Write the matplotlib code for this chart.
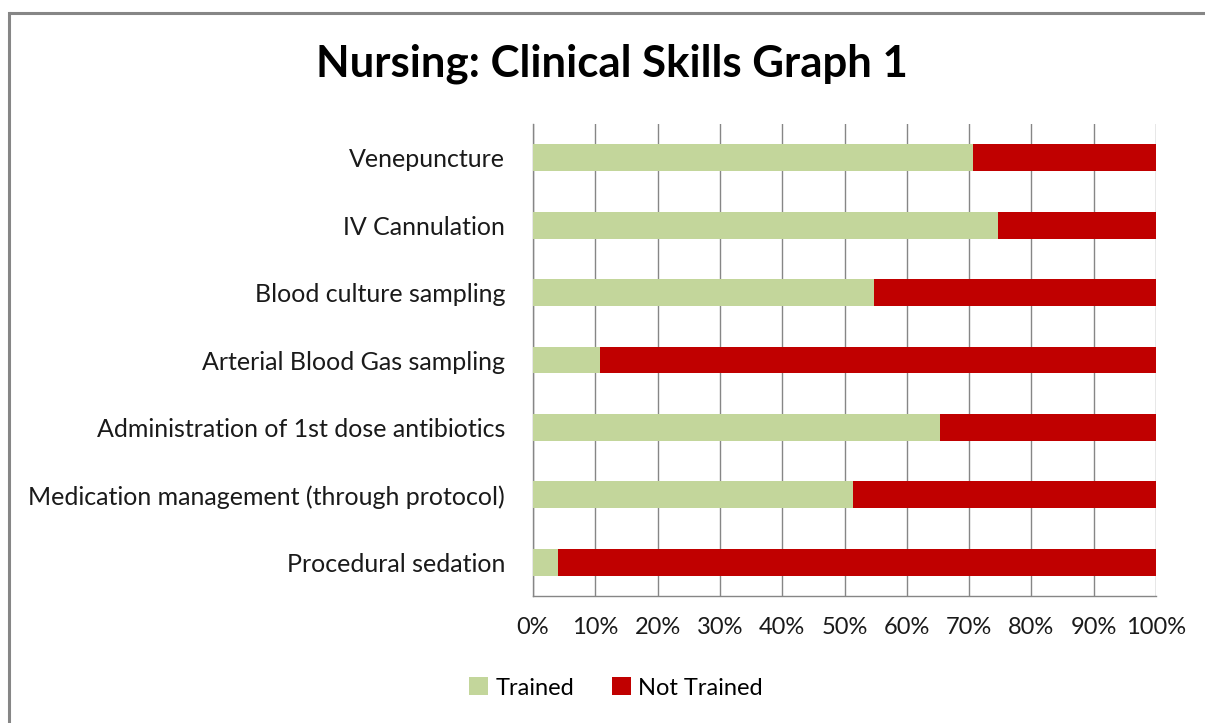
import matplotlib
matplotlib.use("Agg")
import matplotlib.pyplot as plt
from matplotlib.ticker import FuncFormatter, MultipleLocator
from matplotlib.lines import Line2D

categories = ["Venepuncture", "IV Cannulation", "Blood culture sampling",
              "Arterial Blood Gas sampling", "Administration of 1st dose antibiotics",
              "Medication management (through protocol)", "Procedural sedation"]
trained = [70.6, 74.7, 54.7, 10.8, 65.4, 51.4, 4.0]
not_trained = [100 - t for t in trained]
series_names = ["Trained", "Not Trained"]
colors = ["#C3D69B", "#C00000"]

plt.rcParams['font.family'] = ['Lato', 'DejaVu Sans']

fig = plt.figure(figsize=(12.05, 7.23), dpi=100)
W, H = 1205, 723
ax = fig.add_axes([533 / W, 1 - 596 / H, (1156 - 533) / W, (596 - 124) / H])

y = list(range(len(categories)))[::-1]
ax.barh(y, trained, height=0.4, color=colors[0], label=series_names[0], zorder=3)
ax.barh(y, not_trained, left=trained, height=0.4, color=colors[1], label=series_names[1], zorder=3)

ax.set_xlim(0, 100)
ax.set_ylim(-0.5, len(categories) - 0.5)
ax.set_yticks(y)
ax.set_yticklabels(categories, fontsize=18, color="#1a1a1a")
ax.xaxis.set_major_locator(MultipleLocator(10))
ax.xaxis.set_major_formatter(FuncFormatter(lambda v, p: f"{int(round(v))}%"))
ax.tick_params(axis='x', labelsize=17, length=0, pad=15, colors="#1a1a1a")
ax.tick_params(axis='y', length=0, pad=20)
ax.grid(axis='x', color="#868686", linewidth=1, zorder=0)
for s in ["top", "right"]:
    ax.spines[s].set_visible(False)
for s in ["left", "bottom"]:
    ax.spines[s].set_color("#868686")
    ax.spines[s].set_linewidth(1)

fig.text(612 / W, 1 - 64 / H, "Nursing: Clinical Skills Graph 1", ha="center", va="center",
         fontsize=31.5, fontweight="bold")

fig.legend(loc="center", bbox_to_anchor=(616 / W, 1 - 688 / H), ncol=2, frameon=False,
           fontsize=17, handlelength=0.8, handleheight=0.8, handletextpad=0.3, columnspacing=1.6)

fig.add_artist(Line2D([9 / W, 9 / W], [0, 1 - 12.5 / H], transform=fig.transFigure,
                      color="#868686", linewidth=2.2, solid_capstyle="projecting"))
fig.add_artist(Line2D([9 / W, 1.0], [1 - 12.5 / H, 1 - 12.5 / H], transform=fig.transFigure,
                      color="#868686", linewidth=2.2, solid_capstyle="butt"))

fig.savefig("out.png", dpi=100)
